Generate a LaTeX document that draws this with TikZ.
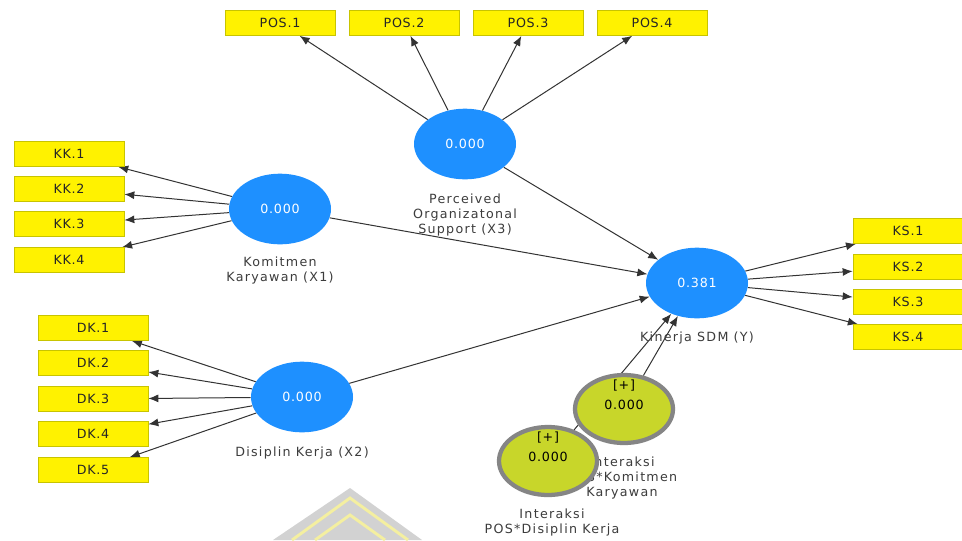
\documentclass[tikz,border=0pt]{standalone}
\usepackage{fontspec}
\setmainfont{DejaVu Sans}[LetterSpace=6]
\newfontfamily\lblfont{DejaVu Sans}[LetterSpace=10]
\usetikzlibrary{shapes.geometric, arrows.meta, backgrounds}
\definecolor{dodger-blue}{HTML}{1E90FF}
\definecolor{lime-green}{HTML}{C8D62A}
\definecolor{ring-gray}{HTML}{858585}
\definecolor{box-olive}{HTML}{C8C400}
\definecolor{line-gray}{HTML}{333333}
\definecolor{label-gray}{HTML}{3C3C3C}
\definecolor{mark-gray}{HTML}{D2D2D2}
\definecolor{mark-yellow}{HTML}{F4EFA0}

\begin{document}
\begin{tikzpicture}[x=0.75pt, y=-0.75pt, font=\fontsize{9.5}{11.25}\selectfont,
    latent/.style={ellipse, fill=dodger-blue, text=white, minimum width=76.5pt, minimum height=53pt, inner sep=0pt},
    moderator/.style={ellipse, fill=lime-green, draw=ring-gray, line width=3.2pt, minimum width=73.5pt, minimum height=51pt, inner sep=0pt},
    modval/.style={align=center, text=black, inner sep=0pt},
    indicator/.style={rectangle, fill=yellow, draw=box-olive, line width=0.5pt, minimum width=82.5pt, minimum height=18.75pt, inner sep=0pt, text=black!85},
    lvlabel/.style={align=center, text=label-gray, font=\lblfont\fontsize{9.5}{11.25}\selectfont, inner sep=0pt},
    arrowline/.style={draw=line-gray, line width=0.75pt, -{Latex[length=7.5pt, width=6pt]}}]
    \useasboundingbox (0, 0) rectangle (962, 540);

    \node[latent] (pos) at (465, 144) {0.000};
    \node[latent] (kk) at (280, 209) {0.000};
    \node[latent] (dk) at (302, 397) {0.000};
    \node[latent] (ks) at (697, 283) {0.381};

    \node[lvlabel] (poslabel) at (465, 215) {Perceived\\Organizatonal\\Support (X3)};
    \node[lvlabel] (kklabel) at (280, 270) {Komitmen\\Karyawan (X1)};
    \node[lvlabel] (dklabel) at (302, 453) {Disiplin Kerja (X2)};
    \node[lvlabel] (kslabel) at (697, 338) {Kinerja SDM (Y)};

    \node[moderator] (ik) at (624, 409) {};
    \node[modval] (ikval) at (624, 395) {[+]\\[3.75pt]0.000};
    \node[lvlabel] (iklabel) at (622, 478) {Interaksi\\POS*Komitmen\\Karyawan};
    \node[moderator] (id) at (548, 461) {};
    \node[modval] (idval) at (548, 447) {[+]\\[3.75pt]0.000};
    \node[lvlabel] (idlabel) at (552, 522) {Interaksi\\POS*Disiplin Kerja};

    \foreach \i/\x in {1/280, 2/404, 3/528, 4/652}
        \node[indicator] (pos\i) at (\x, 23) {POS.\i};
    \foreach \i/\y in {1/154, 2/189, 3/224, 4/260}
        \node[indicator] (kk\i) at (69, \y) {KK.\i};
    \foreach \i/\y in {1/328, 2/363, 3/399, 4/434, 5/470}
        \node[indicator] (dk\i) at (93, \y) {DK.\i};
    \foreach \i/\y in {1/231, 2/267, 3/302, 4/337}
        \node[indicator] (ks\i) at (908, \y) {KS.\i};

    \begin{pgfonlayer}{background}
        \fill[white] (0, 0) rectangle (962, 540);
        \fill[mark-gray] (350, 488) -- (273, 540) -- (422, 540) -- cycle;
        \draw[mark-yellow, line width=2.2pt] (292, 540) -- (350, 498) -- (408, 540);
        \draw[mark-yellow, line width=2.2pt] (315, 540) -- (350, 515) -- (385, 540);

        \foreach \i in {1,...,4} {
            \draw[arrowline] (pos) -- (pos\i);
            \draw[arrowline] (kk) -- (kk\i);
            \draw[arrowline] (ks) -- (ks\i);
        }
        \foreach \i in {1,...,5}
            \draw[arrowline] (dk) -- (dk\i);
        \draw[arrowline] (kk) -- (ks);
        \draw[arrowline] (dk) -- (ks);
        \draw[arrowline] (pos) -- (ks);
        \draw[arrowline] (ik) -- (ks);
        \draw[arrowline] (id) -- (ks);
    \end{pgfonlayer}
\end{tikzpicture}
\end{document}
